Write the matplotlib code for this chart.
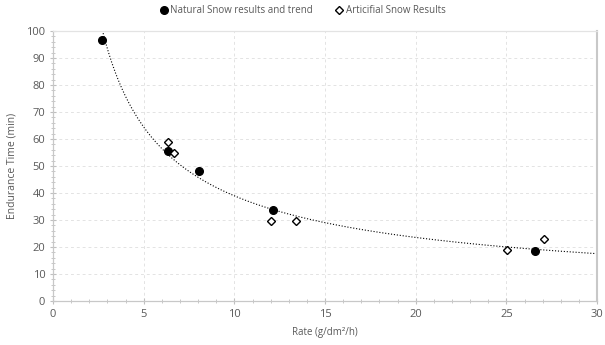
import numpy as np
import matplotlib.pyplot as plt
from matplotlib.ticker import MultipleLocator

# data
natural_rate = [2.7, 6.35, 8.05, 12.15, 26.55]
natural_time = [96.5, 55.5, 48.2, 33.8, 18.5]
artificial_rate = [6.35, 6.65, 12.0, 13.4, 25.05, 27.05]
artificial_time = [59.0, 55.0, 29.8, 29.8, 19.0, 22.8]

text_grey = '#595959'

# power trendline through the natural snow results
b, ln_a = np.polyfit(np.log(natural_rate), np.log(natural_time), 1)
xt = np.linspace(2.5, 30, 300)
yt = np.exp(ln_a) * xt ** b

plt.rcParams['font.family'] = ['Open Sans', 'DejaVu Sans']

fig = plt.figure(figsize=(6.05, 3.45), dpi=100)
ax = fig.add_axes([0.0876, 0.1275, 0.8994, 0.7826])

ax.plot(xt, yt, ':', color='black', lw=0.8)
ax.plot(natural_rate, natural_time, 'o', color='black', ms=5.5,
        label='Natural Snow results and trend', zorder=3)
ax.plot(artificial_rate, artificial_time, 'D', mfc='white', mec='black', mew=1.0,
        ms=3.8, label='Articifial Snow Results', zorder=3)

ax.set_xlim(0, 30)
ax.set_ylim(0, 100)
ax.xaxis.set_major_locator(MultipleLocator(5))
ax.xaxis.set_minor_locator(MultipleLocator(1))
ax.yaxis.set_major_locator(MultipleLocator(10))
ax.yaxis.set_minor_locator(MultipleLocator(2))

ax.grid(True, which='major', ls=(0, (3, 3)), color='#e3e3e3', lw=0.7)
ax.set_axisbelow(True)
for s in ax.spines.values():
    s.set_color('#c8c8c8')
    s.set_linewidth(0.9)
ax.spines['top'].set_color('#e3e3e3')
ax.spines['right'].set_linewidth(1.5)
ax.tick_params(which='both', colors='#bfbfbf', labelcolor=text_grey, labelsize=8)
ax.tick_params(which='major', length=4, direction='inout')
ax.tick_params(which='minor', length=3, direction='inout')

ax.set_xlabel('Rate (g/dm²/h)', fontsize=7, color=text_grey, labelpad=5)
ax.set_ylabel('Endurance Time (min)', fontsize=7.5, color=text_grey, labelpad=6)

fig.legend(loc='upper center', bbox_to_anchor=(0.5, 1.01), ncol=2, frameon=False,
           fontsize=7, labelcolor=text_grey, handletextpad=0.2, columnspacing=2.2,
           handlelength=1.0)

fig.savefig('out.png', dpi=100)
